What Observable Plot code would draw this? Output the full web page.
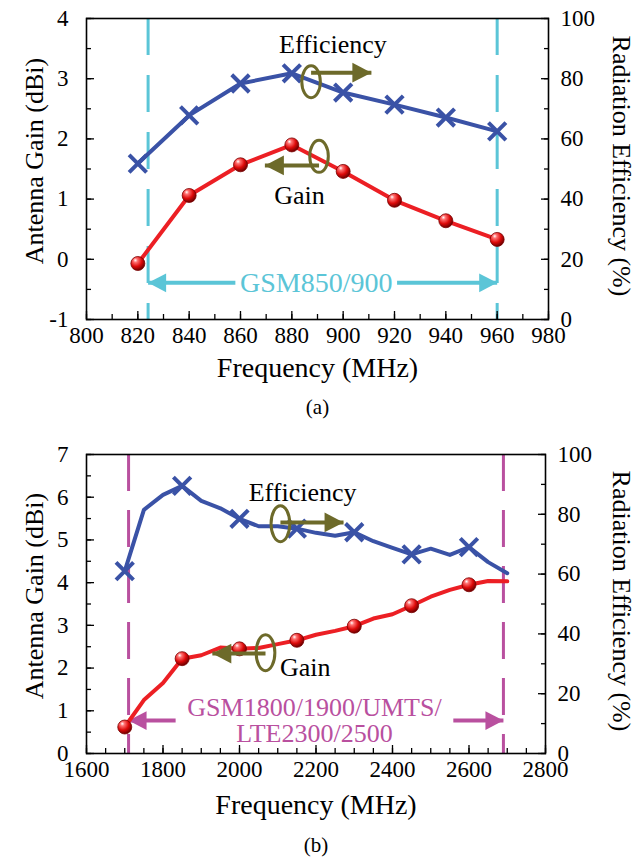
<!DOCTYPE html>
<html><head><meta charset="utf-8">
<script src="https://cdn.jsdelivr.net/npm/d3@7"></script>
<script src="https://cdn.jsdelivr.net/npm/@observablehq/plot@0.6"></script>
<style>
body{margin:0;background:#fff;}
#wrap{position:relative;width:637px;height:860px;overflow:hidden;font-family:'Liberation Serif';}
#a{position:absolute;left:0;top:0;}
#b{position:absolute;left:0;top:420px;}
</style></head><body><div id="wrap"><div id="a"></div><div id="b"></div></div>
<script>
// ---------- Panel (a) data ----------
const freqA = [820, 840, 860, 880, 900, 920, 940, 960];
const gainA = [-0.07, 1.06, 1.57, 1.90, 1.46, 0.98, 0.64, 0.33];
const effA  = [51.8, 67.8, 78.4, 81.8, 75.4, 71.4, 67.1, 62.5];
const bandA = [824, 960];
const bandLabelA = "GSM850/900";
const xTicksA = [800, 820, 840, 860, 880, 900, 920, 940, 960, 980];
const gainTicksA = [-1, 0, 1, 2, 3, 4];
const effTicksA = [0, 20, 40, 60, 80, 100];

// ---------- Panel (b) data ----------
const freqB = [1700,1750,1800,1850,1900,1950,2000,2050,2100,2150,2200,2250,2300,2350,2400,2450,2500,2550,2600,2650,2700];
const gainB = [0.62,1.25,1.65,2.22,2.30,2.48,2.45,2.47,2.56,2.65,2.78,2.87,2.98,3.16,3.26,3.46,3.67,3.83,3.95,4.04,4.03];
const effB  = [61.0,81.5,86.5,89.5,84.5,82.0,78.5,76.0,76.0,75.2,73.8,72.8,74.0,71.0,68.8,66.6,68.5,66.4,69.0,64.0,60.3];
const markerFreqB = [1700, 1850, 2000, 2150, 2300, 2450, 2600];
const bandB = [1710, 2690];
const bandLabelB = "GSM1800/1900/UMTS/\nLTE2300/2500";
const xTicksB = [1600, 1800, 2000, 2200, 2400, 2600, 2800];
const gainTicksB = [0, 1, 2, 3, 4, 5, 6, 7];
const effTicksB = [0, 20, 40, 60, 80, 100];

// ---------- styling ----------
const FONT = "'Liberation Serif', serif";
const BLUE = "#3a52a6", RED = "#ec1f24", OLIVE = "#6d6a2a", CYAN = "#5bc5d7", MAGENTA = "#b9509f";

const arrowHead = { draw(ctx, size) { const L = Math.sqrt(size); ctx.moveTo(0, 0); ctx.lineTo(-L, -L * 0.52); ctx.lineTo(-L, L * 0.52); ctx.closePath(); } };
function ellipseSym(ratio) {
  return { draw(ctx, size) {
    const ry = Math.sqrt(size), rx = ry * ratio, k = 0.5523;
    ctx.moveTo(rx, 0);
    ctx.bezierCurveTo(rx, ry * k, rx * k, ry, 0, ry);
    ctx.bezierCurveTo(-rx * k, ry, -rx, ry * k, -rx, 0);
    ctx.bezierCurveTo(-rx, -ry * k, -rx * k, -ry, 0, -ry);
    ctx.bezierCurveTo(rx * k, -ry, rx, -ry * k, rx, 0);
    ctx.closePath();
  } };
}
const rLen = L => L / Math.sqrt(Math.PI);

function frameAxes({xMajor, xMinor, yMajor, yMinor, rMajor, rMinor, rFormat}) {
  const tk = {fill: "none", label: null, stroke: "#000", strokeWidth: 1.3};
  return [
    Plot.axisX(xMinor, {anchor: "bottom", tickSize: 5, dy: -5, ...tk}),
    Plot.axisX(xMajor, {anchor: "bottom", tickSize: 8, dy: -8, ...tk}),
    Plot.axisX(xMajor, {anchor: "bottom", tickSize: 0, tickPadding: 7, fontSize: 23, label: null, fill: "#000", tickFormat: d => String(d)}),
    Plot.axisY(yMinor, {anchor: "left", tickSize: 5, dx: 5, ...tk}),
    Plot.axisY(yMajor, {anchor: "left", tickSize: 8, dx: 8, ...tk}),
    Plot.axisY(yMajor, {anchor: "left", tickSize: 0, tickPadding: 18, fontSize: 23, label: null, fill: "#000", tickFormat: d => String(d)}),
    Plot.axisY(rMinor, {anchor: "right", tickSize: 5, dx: -5, ...tk}),
    Plot.axisY(rMajor, {anchor: "right", tickSize: 8, dx: -8, ...tk}),
    Plot.axisY(rMajor, {anchor: "right", tickSize: 0, tickPadding: 12, fontSize: 23, label: null, fill: "#000", tickFormat: rFormat}),
    Plot.frame({stroke: "#000", strokeWidth: 1.6})
  ];
}

function finish(svg, id) {
  const s = d3.select(svg);
  s.attr("font-family", FONT).style("font-family", FONT);
  s.selectAll("g, text, tspan").attr("font-family", FONT).style("font-family", FONT, "important");
  const defs = s.insert("defs", ":first-child");
  const g = defs.append("radialGradient").attr("id", id).attr("cx", "38%").attr("cy", "32%").attr("r", "68%").attr("fx", "32%").attr("fy", "26%");
  g.append("stop").attr("offset", "0%").attr("stop-color", "#ffffff");
  g.append("stop").attr("offset", "22%").attr("stop-color", "#ff7070");
  g.append("stop").attr("offset", "62%").attr("stop-color", "#dd0a0a");
  g.append("stop").attr("offset", "100%").attr("stop-color", "#6e0000");
}

const txt = {textAnchor: "middle", lineAnchor: "middle"};

// ---------- Panel (a) ----------
const effToYA = e => e / 20 - 1;
const rowsA = freqA.map((f, i) => ({f, gain: gainA[i], eff: effToYA(effA[i])}));
const annA = {
  effText: {x: 896, y: 3.57, t: "Efficiency"}, gainText: {x: 883, y: 1.06, t: "Gain"},
  effEllipse: {x: 887.5, y: 2.95}, effShaft: {x1: 887.5, x2: 911, y: 3.10},
  gainEllipse: {x: 890.6, y: 1.71}, gainShaft: {x1: 890.6, x2: 869.5, y: 1.56},
  bandY: -0.39, bandTextX: 889.5, bandGap: [858, 921]
};
const svgA = Plot.plot({
  width: 637, height: 420,
  marginLeft: 86, marginRight: 89, marginTop: 18, marginBottom: 101,
  style: {color: "#000", background: "#fff"},
  x: {domain: [800, 980], axis: null},
  y: {domain: [-1, 4], axis: null},
  marks: [
    Plot.ruleX(bandA, {stroke: CYAN, strokeWidth: 3, strokeDasharray: "37,20"}),
    Plot.link([{x1: bandA[0], x2: annA.bandGap[0]}, {x1: annA.bandGap[1], x2: bandA[1]}],
      {x1: "x1", x2: "x2", y1: annA.bandY, y2: annA.bandY, stroke: CYAN, strokeWidth: 4}),
    Plot.dot([{x: bandA[0], r: 180}, {x: bandA[1], r: 0}], {x: "x", y: annA.bandY, symbol: arrowHead, r: rLen(18), rotate: "r", fill: CYAN, stroke: "none"}),
    Plot.text([bandLabelA], {...txt, x: annA.bandTextX, y: annA.bandY, fontSize: 28, fill: CYAN}),
    Plot.line(rowsA, {x: "f", y: "eff", stroke: BLUE, strokeWidth: 4}),
    Plot.line(rowsA, {x: "f", y: "gain", stroke: RED, strokeWidth: 4}),
    Plot.dot(rowsA, {x: "f", y: "eff", symbol: "times", r: 8, stroke: BLUE, strokeWidth: 4}),
    Plot.dot(rowsA, {x: "f", y: "gain", r: 7, fill: "url(#ballA)", stroke: "#7a0000", strokeWidth: 0.8}),
    Plot.text([annA.effText, annA.gainText], {...txt, x: "x", y: "y", text: "t", fontSize: 26, fill: "#000"}),
    Plot.link([annA.effShaft, annA.gainShaft], {x1: "x1", x2: "x2", y1: "y", y2: "y", stroke: OLIVE, strokeWidth: 4}),
    Plot.dot([{x: annA.effShaft.x2, y: annA.effShaft.y, r: 0}, {x: annA.gainShaft.x2, y: annA.gainShaft.y, r: 180}],
      {x: "x", y: "y", rotate: "r", symbol: arrowHead, r: rLen(19), fill: OLIVE, stroke: "none"}),
    Plot.dot([annA.effEllipse, annA.gainEllipse], {x: "x", y: "y", symbol: ellipseSym(0.58), r: rLen(16), fill: "none", stroke: OLIVE, strokeWidth: 3}),
    ...frameAxes({
      xMajor: xTicksA, xMinor: d3.range(800, 981, 10),
      yMajor: gainTicksA, yMinor: d3.range(-1, 4.01, 0.5),
      rMajor: effTicksA.map(effToYA), rMinor: d3.range(0, 101, 10).map(effToYA),
      rFormat: d => String(Math.round((d + 1) * 20))
    }),
    Plot.text(["Antenna Gain (dBi)"], {...txt, frameAnchor: "left", rotate: -90, dx: -52, dy: -8, fontSize: 26}),
    Plot.text(["Radiation Efficiency (%)"], {...txt, frameAnchor: "right", rotate: 90, dx: 73, dy: -3, fontSize: 26}),
    Plot.text(["Frequency (MHz)"], {...txt, frameAnchor: "bottom", dy: 49, fontSize: 28}),
    Plot.text(["(a)"], {...txt, frameAnchor: "bottom", dy: 88, fontSize: 21})
  ]
});
finish(svgA, "ballA");
document.getElementById("a").appendChild(svgA);

// ---------- Panel (b) ----------
const effToYB = e => e * 7 / 100;
const rowsB = freqB.map((f, i) => ({f, gain: gainB[i], eff: effToYB(effB[i])}));
const markB = rowsB.filter(d => markerFreqB.includes(d.f));
const annB = {
  effText: {x: 2165, y: 6.11, t: "Efficiency"}, gainText: {x: 2172, y: 2.01, t: "Gain"},
  effEllipse: {x: 2107, y: 5.38}, effShaft: {x1: 2107, x2: 2272, y: 5.41},
  gainEllipse: {x: 2068, y: 2.36}, gainShaft: {x1: 2068, x2: 1929, y: 2.34},
  bandY: 0.77, bandTextX: 2196, bandGap: [1833, 2559]
};
const svgB = Plot.plot({
  width: 637, height: 440,
  marginLeft: 86, marginRight: 92, marginTop: 34, marginBottom: 107,
  style: {color: "#000", background: "#fff"},
  x: {domain: [1600, 2800], axis: null},
  y: {domain: [0, 7], axis: null},
  marks: [
    Plot.ruleX(bandB, {stroke: MAGENTA, strokeWidth: 3, strokeDasharray: "37,19"}),
    Plot.link([{x1: bandB[0], x2: annB.bandGap[0]}, {x1: annB.bandGap[1], x2: bandB[1]}],
      {x1: "x1", x2: "x2", y1: annB.bandY, y2: annB.bandY, stroke: MAGENTA, strokeWidth: 4}),
    Plot.dot([{x: bandB[0], r: 180}, {x: bandB[1], r: 0}], {x: "x", y: annB.bandY, symbol: arrowHead, r: rLen(18), rotate: "r", fill: MAGENTA, stroke: "none"}),
    Plot.text([bandLabelB], {...txt, x: annB.bandTextX, y: annB.bandY, fontSize: 26, lineHeight: 1.0, fill: MAGENTA}),
    Plot.line(rowsB, {x: "f", y: "eff", stroke: BLUE, strokeWidth: 4}),
    Plot.line(rowsB, {x: "f", y: "gain", stroke: RED, strokeWidth: 4}),
    Plot.dot(markB, {x: "f", y: "eff", symbol: "times", r: 8, stroke: BLUE, strokeWidth: 4}),
    Plot.dot(markB, {x: "f", y: "gain", r: 7, fill: "url(#ballB)", stroke: "#7a0000", strokeWidth: 0.8}),
    Plot.text([annB.effText, annB.gainText], {...txt, x: "x", y: "y", text: "t", fontSize: 26, fill: "#000"}),
    Plot.link([annB.effShaft, annB.gainShaft], {x1: "x1", x2: "x2", y1: "y", y2: "y", stroke: OLIVE, strokeWidth: 4}),
    Plot.dot([{x: annB.effShaft.x2, y: annB.effShaft.y, r: 0}, {x: annB.gainShaft.x2, y: annB.gainShaft.y, r: 180}],
      {x: "x", y: "y", rotate: "r", symbol: arrowHead, r: rLen(19), fill: OLIVE, stroke: "none"}),
    Plot.dot([annB.effEllipse, annB.gainEllipse], {x: "x", y: "y", symbol: ellipseSym(0.52), r: rLen(18), fill: "none", stroke: OLIVE, strokeWidth: 3}),
    ...frameAxes({
      xMajor: xTicksB, xMinor: d3.range(1600, 2801, 50),
      yMajor: gainTicksB, yMinor: d3.range(0, 7.01, 0.5),
      rMajor: effTicksB.map(effToYB), rMinor: d3.range(0, 101, 10).map(effToYB),
      rFormat: d => String(Math.round(d * 100 / 7))
    }),
    Plot.text(["Antenna Gain (dBi)"], {...txt, frameAnchor: "left", rotate: -90, dx: -52, dy: -8, fontSize: 26}),
    Plot.text(["Radiation Efficiency (%)"], {...txt, frameAnchor: "right", rotate: 90, dx: 76, dy: -3, fontSize: 26}),
    Plot.text(["Frequency (MHz)"], {...txt, frameAnchor: "bottom", dy: 52, fontSize: 28}),
    Plot.text(["(b)"], {...txt, frameAnchor: "bottom", dy: 92, fontSize: 21})
  ]
});
finish(svgB, "ballB");
document.getElementById("b").appendChild(svgB);
</script>
</body></html>
